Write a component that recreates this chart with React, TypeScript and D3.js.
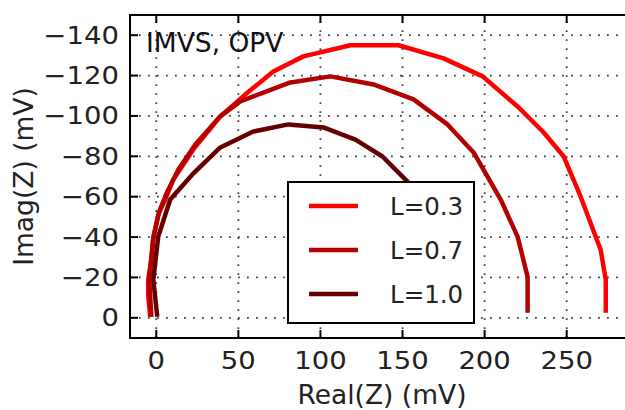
import React, { useEffect, useRef } from 'react';
import * as d3 from 'd3';

// Nyquist data, Real(Z) and Imag(Z) in mV
const realL03 = [-3.7, -4.9, -4.9, -3, -1.8, 1.2, 5.5, 10.4, 22.6, 39, 54.3, 71.3, 89.6, 118.3, 147.6, 175, 198.8, 220.1, 236, 248.2, 258.5, 270.7, 273.8, 273.8];
const imagL03 = [-0.5, -11.4, -18.9, -28.8, -39.7, -51.1, -58.6, -68.5, -83.4, -99.8, -110.7, -122, -129.5, -135, -135, -128.5, -119.6, -104.7, -91.8, -79.9, -60, -33.7, -18.9, -2.5];

const realL07 = [-3, -4.3, -1.8, 1.8, 6.7, 13.4, 23.8, 39, 51.2, 81.7, 106.1, 132.3, 156.7, 177.4, 193.3, 209.8, 220.1, 226.2, 226.2];
const imagL07 = [-0.5, -18.9, -39.7, -52.6, -62.5, -73.4, -85.9, -99.8, -107.2, -116.6, -119.6, -115.6, -108.2, -95.8, -81.9, -58.6, -40.2, -20.3, -2.5];

const realL10 = [0.6, -1.8, 1.2, 8.5, 22, 39, 59.1, 80.5, 101.8, 121.3, 137.8, 153, 165, 175, 181, 184, 184];
const imagL10 = [-0.5, -18.9, -40.2, -58.6, -71, -84.4, -92.3, -95.8, -94.3, -88.3, -79.9, -67.5, -55, -40, -25, -12, -2.5];

const seriesNames = ['L=0.3', 'L=0.7', 'L=1.0'];
const seriesColors = ['#ff0000', '#b30000', '#660000'];

const xTicks = [0, 50, 100, 150, 200, 250];
const yTicks = [0, -20, -40, -60, -80, -100, -120, -140];

const ChartApp = () => {
    const chartRef = useRef(null);

    useEffect(() => {
        if (chartRef.current) {
            drawChart();
        }
    }, []);

    const drawChart = () => {
        const svg = d3.select(chartRef.current);
        svg.selectAll('*').remove();

        const left = 130;
        const right = 634;
        const top = 15;
        const bottom = 338;
        const font = 'DejaVu Sans, sans-serif';

        const x = d3.scaleLinear().domain([-16, 291]).range([left, right]);
        const y = d3.scaleLinear().domain([10, -150]).range([bottom, top]);

        svg.append('rect')
            .attr('width', 625)
            .attr('height', 410)
            .attr('fill', '#fff');

        // grid
        const grid = svg.append('g')
            .attr('stroke', '#444')
            .attr('stroke-width', 1.8)
            .attr('stroke-dasharray', '1.8,7.2');

        grid.selectAll('line.vx')
            .data(xTicks)
            .enter()
            .append('line')
            .attr('x1', d => x(d))
            .attr('x2', d => x(d))
            .attr('y1', bottom)
            .attr('y2', top);

        grid.selectAll('line.hy')
            .data(yTicks)
            .enter()
            .append('line')
            .attr('class', 'hy')
            .attr('x1', left)
            .attr('x2', right)
            .attr('y1', d => y(d))
            .attr('y2', d => y(d));

        // curves
        const curves = [
            d3.zip(realL03, imagL03),
            d3.zip(realL07, imagL07),
            d3.zip(realL10, imagL10),
        ];

        const line = d3.line()
            .x(d => x(d[0]))
            .y(d => y(d[1]));

        svg.selectAll('path.curve')
            .data(curves)
            .enter()
            .append('path')
            .attr('class', 'curve')
            .attr('d', line)
            .attr('fill', 'none')
            .attr('stroke', (d, i) => seriesColors[i])
            .attr('stroke-width', 4.5)
            .attr('stroke-linejoin', 'round');

        // frame and ticks
        const frame = svg.append('g').attr('stroke', '#000').attr('stroke-width', 2);
        frame.append('rect')
            .attr('x', left)
            .attr('y', top)
            .attr('width', right - left)
            .attr('height', bottom - top)
            .attr('fill', 'none');

        xTicks.forEach(t => {
            frame.append('line').attr('x1', x(t)).attr('x2', x(t)).attr('y1', bottom).attr('y2', bottom - 8);
            frame.append('line').attr('x1', x(t)).attr('x2', x(t)).attr('y1', top).attr('y2', top + 8);
        });
        yTicks.forEach(t => {
            frame.append('line').attr('x1', left).attr('x2', left + 8).attr('y1', y(t)).attr('y2', y(t));
        });

        const fmt = v => (v < 0 ? '\u2212' + Math.abs(v) : String(v));

        // tick labels are a little wider in the original, so stretch them
        svg.selectAll('text.xt')
            .data(xTicks)
            .enter()
            .append('text')
            .attr('transform', d => `translate(${x(d)}, 369) scale(1.1, 1)`)
            .attr('text-anchor', 'middle')
            .attr('font-family', font)
            .attr('font-size', 25)
            .attr('fill', '#222')
            .text(fmt);

        svg.selectAll('text.yt')
            .data(yTicks)
            .enter()
            .append('text')
            .attr('transform', d => `translate(119, ${y(d) + 8.5}) scale(1.1, 1)`)
            .attr('text-anchor', 'end')
            .attr('font-family', font)
            .attr('font-size', 25)
            .attr('fill', '#222')
            .text(fmt);

        svg.append('text')
            .attr('x', (left + right) / 2)
            .attr('y', 404)
            .attr('text-anchor', 'middle')
            .attr('font-family', font)
            .attr('font-size', 26.5)
            .attr('fill', '#222')
            .text('Real(Z) (mV)');

        svg.append('text')
            .attr('transform', `translate(33, ${(top + bottom) / 2}) rotate(-90)`)
            .attr('text-anchor', 'middle')
            .attr('font-family', font)
            .attr('font-size', 26.5)
            .attr('fill', '#222')
            .text('Imag(Z) (mV)');

        svg.append('text')
            .attr('x', 146)
            .attr('y', 52)
            .attr('font-family', font)
            .attr('font-size', 26.5)
            .attr('fill', '#111')
            .text('IMVS, OPV');

        // legend
        const legend = svg.append('g').attr('transform', 'translate(288, 182)');
        legend.append('rect')
            .attr('width', 186)
            .attr('height', 141)
            .attr('fill', '#fff')
            .attr('stroke', '#000')
            .attr('stroke-width', 2);

        legend.selectAll('line')
            .data(seriesNames)
            .enter()
            .append('line')
            .attr('x1', 21)
            .attr('x2', 70)
            .attr('y1', (d, i) => 24 + i * 44)
            .attr('y2', (d, i) => 24 + i * 44)
            .attr('stroke', (d, i) => seriesColors[i])
            .attr('stroke-width', 4.5);

        legend.selectAll('text')
            .data(seriesNames)
            .enter()
            .append('text')
            .attr('x', 102)
            .attr('y', (d, i) => 24 + i * 44 + 8.5)
            .attr('font-family', font)
            .attr('font-size', 24.5)
            .attr('fill', '#222')
            .text(d => d);
    };

    return <svg ref={chartRef} width="625" height="410" style={{ position: 'absolute', left: 0, top: 0 }} />;
};

export default function App() {
    return <ChartApp />;
}
